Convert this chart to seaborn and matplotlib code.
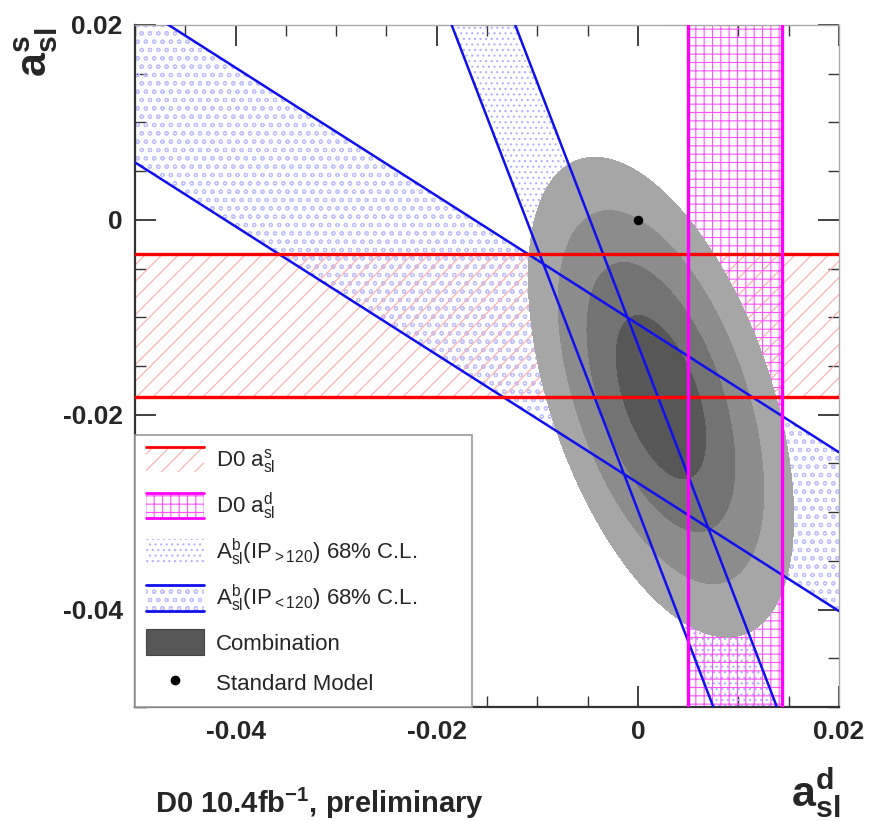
import numpy as np
import pandas as pd
import matplotlib
matplotlib.use("Agg")
import matplotlib.pyplot as plt
import seaborn as sns
from matplotlib.patches import Patch, Rectangle
from matplotlib.lines import Line2D
from matplotlib.legend_handler import HandlerBase

# ---------------- data ----------------
xlim = [-0.05, 0.02]
ylim = [-0.05, 0.02]
x_ticks = [-0.04, -0.02, 0.0, 0.02]
y_ticks = [-0.04, -0.02, 0.0, 0.02]
x_tick_labels = ["-0.04", "-0.02", "0", "0.02"]
y_tick_labels = ["-0.04", "-0.02", "0", "0.02"]

asls_band = [-0.0182, -0.0035]          # D0 a_sl^s (horizontal band)
asld_band = [0.0050, 0.0143]            # D0 a_sl^d (vertical band)
ip_gt_slope = -2.69                     # A_sl^b(IP>120) band: y = slope*x + b
ip_gt_intercepts = [-0.0298, -0.0128]
ip_lt_slope = -0.658                    # A_sl^b(IP<120) band
ip_lt_intercepts = [-0.0270, -0.0107]

comb_center = [0.0023, -0.0182]
comb_sigma = [0.0030, 0.0056]
comb_rho = -0.50
comb_levels = [2.30, 6.18, 11.83, 19.33]
comb_colors = ["#575757", "#737373", "#8c8c8c", "#a6a6a6"]

sm_point = [0.0, 0.0]

legend_labels = [
    r"D0 $\mathrm{a}^{\mathrm{s}}_{\mathrm{sl}}$",
    r"D0 $\mathrm{a}^{\mathrm{d}}_{\mathrm{sl}}$",
    r"$\mathrm{A}^{\mathrm{b}}_{\mathrm{sl}}$(IP$_{\mathrm{>120}}$) 68% C.L.",
    r"$\mathrm{A}^{\mathrm{b}}_{\mathrm{sl}}$(IP$_{\mathrm{<120}}$) 68% C.L.",
    "Combination",
    "Standard Model",
]

# ---------------- style ----------------
sns.set_style("white")
plt.rcParams["font.family"] = ["Liberation Sans", "DejaVu Sans"]
plt.rcParams["mathtext.fontset"] = "custom"
plt.rcParams["mathtext.rm"] = "Liberation Sans"
plt.rcParams["mathtext.it"] = "Liberation Sans:italic"
plt.rcParams["mathtext.bf"] = "Liberation Sans:bold"
plt.rcParams["hatch.linewidth"] = 0.8

RED = "#ff0000"
RED_H = "#ffaaaa"
MAG = "#ff00ff"
MAG_H = "#ff55ff"
BLUE = "#1010ee"
BLUE_H = "#b0b0ff"
BLUE_H2 = "#c0c0ff"

fig = plt.figure(figsize=(8.74, 8.21), dpi=100)
ax = fig.add_axes([135 / 874, 1 - 707 / 821, 704 / 874, 682 / 821])

xs = np.array(xlim)

# hatched bands
ax.fill_between(xs, ip_lt_slope * xs + ip_lt_intercepts[0], ip_lt_slope * xs + ip_lt_intercepts[1],
                facecolor="none", edgecolor=BLUE_H2, hatch="oo", linewidth=0, zorder=1)
ax.fill_between(xs, ip_gt_slope * xs + ip_gt_intercepts[0], ip_gt_slope * xs + ip_gt_intercepts[1],
                facecolor="none", edgecolor=BLUE_H, hatch="...", linewidth=0, zorder=1)
ax.axhspan(asls_band[0], asls_band[1], facecolor="none", edgecolor=RED_H, hatch="//", linewidth=0, zorder=1)
ax.axvspan(asld_band[0], asld_band[1], facecolor="none", edgecolor=MAG_H, hatch="++", linewidth=0, zorder=1)

# combination contours
gx = np.linspace(xlim[0], xlim[1], 500)
gy = np.linspace(ylim[0], ylim[1], 500)
GX, GY = np.meshgrid(gx, gy)
dx = (GX - comb_center[0]) / comb_sigma[0]
dy = (GY - comb_center[1]) / comb_sigma[1]
chi2 = (dx ** 2 - 2 * comb_rho * dx * dy + dy ** 2) / (1 - comb_rho ** 2)
ax.contourf(GX, GY, chi2, levels=[0] + comb_levels, colors=comb_colors, zorder=2)

# band boundary lines (seaborn)
for b in ip_gt_intercepts:
    sns.lineplot(x=xs, y=ip_gt_slope * xs + b, color=BLUE, linewidth=1.8, ax=ax, zorder=3)
for b in ip_lt_intercepts:
    sns.lineplot(x=xs, y=ip_lt_slope * xs + b, color=BLUE, linewidth=1.8, ax=ax, zorder=3)
for v in asls_band:
    sns.lineplot(x=xs, y=[v, v], color=RED, linewidth=2.4, ax=ax, zorder=3)
for v in asld_band:
    sns.lineplot(x=[v, v], y=ylim, color=MAG, linewidth=2.4, ax=ax, zorder=3, orient="y")

# Standard Model point
sns.scatterplot(x=[sm_point[0]], y=[sm_point[1]], color="black", s=40, ax=ax, zorder=5, edgecolor="black")

ax.set_xlim(xlim)
ax.set_ylim(ylim)
ax.set_xlabel("")
ax.set_ylabel("")

# ticks
ax.set_xticks(x_ticks)
ax.set_xticklabels(x_tick_labels)
ax.set_yticks(y_ticks)
ax.set_yticklabels(y_tick_labels)
ax.set_xticks(np.arange(-0.05, 0.0201, 0.005), minor=True)
ax.set_yticks(np.arange(-0.05, 0.0201, 0.005), minor=True)
ax.tick_params(which="both", direction="in", top=True, right=True, bottom=True, left=True, color="#333333")
ax.tick_params(which="major", length=15, width=1.3, pad=9)
ax.tick_params(which="minor", length=8, width=1.0)
for lab in ax.get_xticklabels() + ax.get_yticklabels():
    lab.set_fontsize(19)
    lab.set_fontweight("bold")
for s in ["left", "bottom"]:
    ax.spines[s].set_color("#333333")
    ax.spines[s].set_linewidth(1.6)
for s in ["top", "right"]:
    ax.spines[s].set_color("#aaaaaa")
    ax.spines[s].set_linewidth(1.0)


# legend with custom band handles
class BandHandler(HandlerBase):
    def __init__(self, hatch=None, hcolor=None, fill=None, lcolor=None, top=False, bottom=False):
        super().__init__()
        self.hatch = hatch
        self.hcolor = hcolor
        self.fill = fill
        self.lcolor = lcolor
        self.top = top
        self.bottom = bottom

    def create_artists(self, legend, orig_handle, xdescent, ydescent, width, height, fontsize, trans):
        x0, y0 = -xdescent, -ydescent
        arts = []
        if self.fill is not None:
            arts.append(Rectangle((x0, y0), width, height, facecolor=self.fill, edgecolor="#444444",
                                  linewidth=0.8, transform=trans))
        else:
            arts.append(Rectangle((x0, y0), width, height, facecolor="none", edgecolor=self.hcolor,
                                  hatch=self.hatch, linewidth=0, transform=trans))
        if self.top:
            arts.append(Line2D([x0, x0 + width], [y0 + height] * 2, color=self.lcolor, lw=2, transform=trans))
        if self.bottom:
            arts.append(Line2D([x0, x0 + width], [y0] * 2, color=self.lcolor, lw=2, transform=trans))
        return arts


h_red = Patch(label=legend_labels[0])
h_mag = Patch(label=legend_labels[1])
h_gt = Patch(label=legend_labels[2])
h_lt = Patch(label=legend_labels[3])
h_comb = Patch(label=legend_labels[4])
h_sm = Line2D([], [], marker="o", color="black", linestyle="none", markersize=6)
handler_map = {
    h_red: BandHandler(hatch="//", hcolor=RED_H, lcolor=RED, top=True),
    h_mag: BandHandler(hatch="++", hcolor=MAG_H, lcolor=MAG, top=True, bottom=True),
    h_gt: BandHandler(hatch="...", hcolor=BLUE_H),
    h_lt: BandHandler(hatch="oo", hcolor=BLUE_H2, lcolor=BLUE, top=True, bottom=True),
    h_comb: BandHandler(fill=comb_colors[0]),
}
leg = ax.legend([h_red, h_mag, h_gt, h_lt, h_comb, h_sm], legend_labels, handler_map=handler_map,
                loc="lower left", bbox_to_anchor=(0, 0, 337 / 704, 0.4), mode="expand", borderaxespad=0,
                fontsize=16, handlelength=2.6, handleheight=1.4, labelspacing=0.68, handletextpad=0.55,
                borderpad=0.5, fancybox=False, framealpha=1, edgecolor="#999999", facecolor="white")
leg.set_zorder(10)
leg.get_frame().set_linewidth(1.2)

# axis titles and caption
fig.text(36 / 874, 1 - 52 / 821, r"$\mathbf{a}^{\mathbf{s}}_{\mathbf{sl}}$", rotation=90,
         ha="center", va="center", fontsize=31)
fig.text(816 / 874, 1 - 793 / 821, r"$\mathbf{a}^{\mathbf{d}}_{\mathbf{sl}}$",
         ha="center", va="center", fontsize=31)
fig.text(155 / 874, 1 - 813 / 821, r"D0 10.4fb$^{\mathbf{-1}}$, preliminary",
         ha="left", va="baseline", fontsize=21, fontweight="bold")

fig.savefig("out.png", dpi=100)
